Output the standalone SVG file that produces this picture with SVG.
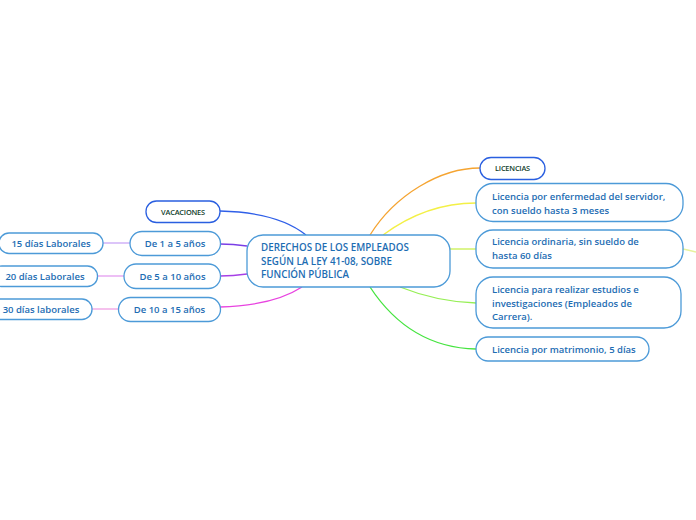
<svg xmlns="http://www.w3.org/2000/svg" width="696" height="520" viewBox="0 0 696 520">
<style>
.n{fill:#fff;stroke:#4c9ad8;stroke-width:1.3}
.k{fill:#fff;stroke:#2a5fe0;stroke-width:1.3}
.t{font-family:"Open Sans","Noto Sans",sans-serif;font-weight:600;font-size:9.5px;fill:#1d6db3}
.m{font-size:9.8px}
.s{font-family:"Open Sans","Noto Sans",sans-serif;font-weight:600;font-size:7.4px;fill:#0f3d2a;letter-spacing:-0.2px}
.c{fill:none;stroke-width:1.3}
</style>
<rect width="696" height="520" fill="#fff"/>
<g id="connectors">
<path class="c" stroke="#2f5fe8" d="M220,211 C262,212 290,222 306,235"/>
<path class="c" stroke="#7a3ee6" d="M220,244 C232,244 240,245 247,246"/>
<path class="c" stroke="#a640e6" d="M220,276 C232,276 240,275 247,274"/>
<path class="c" stroke="#e843e0" d="M220,307 C258,306 285,298 302,287"/>
<path class="c" stroke="#f5a431" d="M370,235 C395,195 440,168 480,168"/>
<path class="c" stroke="#f3f046" d="M383,235 C410,215 440,203 476,203"/>
<path class="c" stroke="#c9f04f" d="M450,249 L476,249"/>
<path class="c" stroke="#96ef55" d="M400,287 C420,295 445,302 476,303"/>
<path class="c" stroke="#45e43f" d="M370,287 C395,325 430,348 476,349"/>
<path class="c" stroke="#e6f29c" d="M683,249 C688,250 692,251 696,252"/>
<path class="c" stroke="#c9a6f6" d="M103,243 L130,243"/>
<path class="c" stroke="#e49cf0" d="M97,276 L124,276"/>
<path class="c" stroke="#f0a0e4" d="M92,309 L119,309"/>
</g>
<g id="central">
<rect class="n" x="247" y="235" width="203" height="52" rx="16"/>
<text class="t m"><tspan x="261" y="251">DERECHOS DE LOS EMPLEADOS</tspan><tspan x="261" y="264.5">SEGÚN LA LEY 41-08, SOBRE</tspan><tspan x="261" y="278">FUNCIÓN PÚBLICA</tspan></text>
</g>
<g id="licencias">
<rect class="k" x="480" y="157.5" width="65" height="22" rx="11"/>
<text class="s" x="512.5" y="171" text-anchor="middle">LICENCIAS</text>
</g>
<g id="enfermedad">
<rect class="n" x="476" y="183.5" width="207" height="38" rx="17"/>
<text class="t"><tspan x="492" y="200">Licencia por enfermedad del servidor,</tspan><tspan x="492" y="213.5">con sueldo hasta 3 meses</tspan></text>
</g>
<g id="ordinaria">
<rect class="n" x="476" y="230" width="207" height="38" rx="17"/>
<text class="t"><tspan x="492" y="245">Licencia ordinaria, sin sueldo de</tspan><tspan x="492" y="258.5">hasta 60 días</tspan></text>
</g>
<g id="estudios">
<rect class="n" x="476" y="277" width="205" height="51" rx="17"/>
<text class="t"><tspan x="492" y="293">Licencia para realizar estudios e</tspan><tspan x="492" y="306.5">investigaciones (Empleados de</tspan><tspan x="492" y="320">Carrera).</tspan></text>
</g>
<g id="matrimonio">
<rect class="n" x="476" y="337" width="173" height="24" rx="12"/>
<text class="t" x="492" y="352.5">Licencia por matrimonio, 5 días</text>
</g>
<g id="vacaciones">
<rect class="k" x="146" y="201" width="74" height="21.5" rx="10.5"/>
<text class="s" x="183" y="214.5" text-anchor="middle">VACACIONES</text>
</g>
<g id="de1a5">
<rect class="n" x="130" y="231.5" width="90.5" height="24" rx="12"/>
<text class="t" x="175" y="247" text-anchor="middle">De 1 a 5 años</text>
</g>
<g id="de5a10">
<rect class="n" x="124" y="264" width="96.5" height="24.5" rx="12"/>
<text class="t" x="172.5" y="279.5" text-anchor="middle">De 5 a 10 años</text>
</g>
<g id="de10a15">
<rect class="n" x="118.5" y="297.5" width="102" height="24" rx="12"/>
<text class="t" x="169.5" y="312.5" text-anchor="middle">De 10 a 15 años</text>
</g>
<g id="d15">
<rect class="n" x="-1" y="233" width="104" height="20.5" rx="10"/>
<text class="t" x="51" y="246.5" text-anchor="middle">15 días Laborales</text>
</g>
<g id="d20">
<rect class="n" x="-8" y="266" width="105.5" height="20.5" rx="10"/>
<text class="t" x="45" y="279.5" text-anchor="middle">20 días Laborales</text>
</g>
<g id="d30">
<rect class="n" x="-10" y="299" width="102" height="20.5" rx="10"/>
<text class="t" x="41" y="312.5" text-anchor="middle">30 días laborales</text>
</g>
</svg>
